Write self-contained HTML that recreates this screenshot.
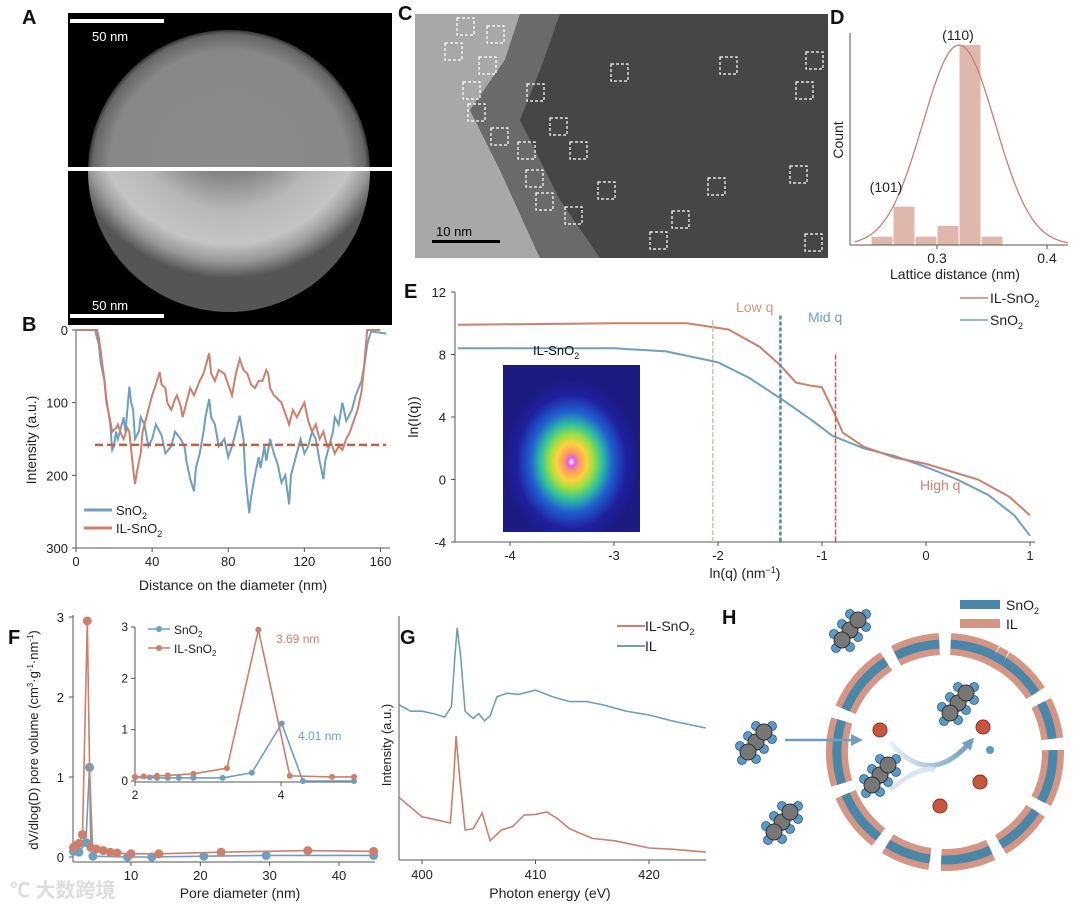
<!DOCTYPE html>
<html><head><meta charset="utf-8">
<style>
html,body{margin:0;padding:0;background:#fff;}
svg{display:block;font-family:"Liberation Sans","Noto Sans CJK SC",sans-serif;}
.pl{font-size:20px;font-weight:bold;fill:#111;}
</style></head>
<body>
<svg id="fig" width="1080" height="912" viewBox="0 0 1080 912">
<defs>
<radialGradient id="gA" cx="50%" cy="50%" r="50%">
<stop offset="0" stop-color="#8a8a8a"/><stop offset="0.85" stop-color="#888"/><stop offset="0.97" stop-color="#666"/><stop offset="1" stop-color="#333"/>
</radialGradient>
<radialGradient id="gA2" cx="50%" cy="28%" r="60%">
<stop offset="0" stop-color="#3e3e3e"/><stop offset="0.3" stop-color="#707070"/><stop offset="0.6" stop-color="#b8b8b8"/><stop offset="0.8" stop-color="#c4c4c4"/><stop offset="0.9" stop-color="#999"/><stop offset="1" stop-color="#555"/>
</radialGradient>
<radialGradient id="gS" cx="50%" cy="58%" r="50%">
<stop offset="0" stop-color="#fff"/><stop offset="0.05" stop-color="#e060e0"/><stop offset="0.12" stop-color="#ff9a60"/><stop offset="0.22" stop-color="#ffd040"/><stop offset="0.32" stop-color="#a0e040"/><stop offset="0.45" stop-color="#30c0a0"/><stop offset="0.6" stop-color="#2060d0"/><stop offset="0.8" stop-color="#2020a0"/><stop offset="1" stop-color="#1a1a80"/>
</radialGradient>
<linearGradient id="gArr" x1="0" x2="1"><stop offset="0" stop-color="#e8f0f6"/><stop offset="1" stop-color="#6e9fc0"/></linearGradient>
<marker id="ah" markerUnits="userSpaceOnUse" markerWidth="12" markerHeight="12" refX="9" refY="6" orient="auto"><path d="M0,0 L12,6 L0,12 z" fill="#6e9fc0"/></marker>
</defs>

<!-- Panel A -->
<g>
<rect x="68" y="13" width="324" height="312" fill="#000"/>
<clipPath id="ct"><rect x="68" y="13" width="324" height="155"/></clipPath>
<clipPath id="cb"><rect x="68" y="171" width="324" height="154"/></clipPath>
<circle cx="229" cy="171" r="141" fill="url(#gA)" clip-path="url(#ct)"/>
<circle cx="229" cy="171" r="141" fill="url(#gA2)" clip-path="url(#cb)"/>
<rect x="68" y="167" width="324" height="4" fill="#fff"/>
<rect x="70" y="19" width="94" height="4" fill="#fff"/>
<text x="92" y="41" font-size="13" fill="#fff">50 nm</text>
<text x="92" y="310" font-size="13" fill="#fff">50 nm</text>
<rect x="70" y="314" width="94" height="4" fill="#fff"/>
</g>
<text class="pl" x="22" y="24">A</text>

<!-- Panel C -->
<g>
<rect x="415" y="14" width="413" height="244" fill="#464646"/>
<polygon points="415,14 520,14 505,60 470,110 500,170 540,258 415,258" fill="#a8a8a8"/>
<polygon points="520,14 560,14 540,70 520,120 560,200 600,258 540,258 500,170 470,110 505,60" fill="#6a6a6a"/>
<g id="boxes" fill="none" stroke="#fff" stroke-width="1.2" stroke-dasharray="3,2"></g>
<rect x="432" y="240" width="68" height="3" fill="#000"/>
<text x="436" y="236" font-size="13" fill="#000">10 nm</text>
</g>
<text class="pl" x="398" y="20">C</text>

<text class="pl" x="22" y="331">B</text>
<text class="pl" x="830" y="24">D</text>
<text class="pl" x="404" y="298">E</text>
<text class="pl" x="8" y="644">F</text>
<text class="pl" x="400" y="644">G</text>
<text class="pl" x="722" y="624">H</text>

<g id="pB"></g>
<g id="pD"></g>
<g id="pE"></g>
<g id="pF"></g>
<g id="pG"></g>
<g id="pH"></g>

<text x="10" y="897" font-size="20" fill="#ddd" font-weight="bold">℃ 大数跨境</text>
</svg>
<script>
var NS='http://www.w3.org/2000/svg';
var BLUE='#6e9fc0', RED='#cd7f6c';
// ---- data ----
var bSnO2=[[0,0],[10,0],[11,10],[12,20],[13,45],[15,70],[16,95],[18,130],[19,165],[20,160],[21,140],[22,150],[24,130],[25,120],[26,140],[28,78],[29,100],[30,110],[31,150],[33,140],[34,120],[36,130],[38,160],[40,150],[42,130],[45,145],[47,170],[50,160],[52,140],[55,150],[57,160],[58,180],[60,205],[62,222],[63,190],[65,170],[67,140],[68,120],[70,95],[71,120],[73,130],[75,160],[78,150],[80,175],[82,160],[84,140],[86,118],[88,150],[89,200],[91,252],[92,230],[94,200],[96,175],[97,190],[99,160],[100,180],[102,150],[104,170],[106,185],[108,210],[110,200],[112,240],[113,200],[115,180],[117,160],[118,150],[120,170],[122,160],[124,140],[126,150],[128,180],[130,205],[131,180],[133,160],[135,140],[136,120],[138,130],[140,100],[142,125],[145,110],[147,90],[150,70],[152,40],[153,20],[155,2],[163,5]];
var bIL=[[0,0],[11,0],[12,10],[13,30],[15,70],[16,100],[18,125],[19,140],[21,135],[22,130],[24,145],[25,150],[27,135],[28,140],[30,190],[31,212],[32,195],[34,170],[35,140],[37,120],[38,110],[40,90],[42,75],[44,58],[45,75],[47,80],[48,100],[50,110],[52,95],[53,90],[55,105],[56,120],[58,100],[60,80],[62,90],[65,70],[67,60],[70,32],[71,60],[73,70],[75,55],[78,60],[80,75],[82,90],[84,60],[86,40],[88,55],[90,60],[92,75],[94,80],[96,70],[98,70],[100,55],[101,60],[102,80],[104,90],[106,95],[108,100],[110,115],[112,130],[114,110],[116,120],[118,110],[120,100],[122,125],[124,140],[126,130],[128,150],[130,140],[132,160],[134,155],[136,170],[138,160],[140,165],[142,150],[144,140],[146,125],[148,110],[150,85],[151,60],[152,30],[153,0],[160,0]];
var bThreshold=158;
var bXTicks=[0,40,80,120,160], bYTicks=[0,100,200,300];
var dBinEdges=[0.24,0.26,0.28,0.30,0.32,0.34];
var dCounts=[1,4.6,1,2.3,24,1];
var dFitMean=0.32, dFitSigma=0.033, dFitAmp=24;
var dXTicks=[0.3,0.4];
var eSnO2=[[-4.5,8.4],[-3,8.4],[-2.5,8.2],[-2,7.5],[-1.7,6.5],[-1.4,5.2],[-1.1,3.8],[-0.9,2.8],[-0.6,2.0],[-0.3,1.5],[0,0.8],[0.3,0],[0.6,-1],[0.85,-2.3],[1,-3.6]];
var eIL=[[-4.5,9.9],[-3,10],[-2.3,10],[-1.9,9.6],[-1.6,8.5],[-1.4,7.3],[-1.25,6.2],[-1.1,6.0],[-1.0,5.9],[-0.9,4.5],[-0.8,3],[-0.6,2.1],[-0.3,1.4],[0,1],[0.5,0],[0.8,-1.1],[1,-2.3]];
var eXTicks=[-4,-3,-2,-1,0,1], eYTicks=[-4,0,4,8,12];
var fIL=[[1.7,0.12],[2,0.14],[2.5,0.17],[3.0,0.28],[3.69,2.95],[4.2,0.12],[5,0.1],[6,0.08],[7,0.06],[8,0.05],[10,0.04],[14,0.04],[23,0.06],[35.5,0.08],[45,0.07]];
var fSnO2=[[1.7,0.07],[2.5,0.06],[3.5,0.18],[4.01,1.12],[4.5,0.01],[9.5,0],[13,0],[20.5,0.01],[29.5,0.02],[45,0.02]];
var fXTicks=[10,20,30,40], fYTicks=[0,1,2,3];
var iIL=[[2,0.08],[2.12,0.09],[2.3,0.1],[2.45,0.11],[2.8,0.14],[3.26,0.25],[3.69,2.95],[4.12,0.1],[4.7,0.08],[5,0.08]];
var iSnO2=[[2,0.07],[2.2,0.07],[2.3,0.06],[2.45,0.06],[2.6,0.06],[2.8,0.06],[3.2,0.06],[3.6,0.16],[4.01,1.12],[4.3,0],[5,0]];
var gIL=[[398,64.6],[399,62],[400,62],[401,61],[402,59.6],[402.6,64],[402.9,85],[403.1,96.7],[403.4,85],[403.8,62],[404.5,59],[405,61],[405.5,58],[406,60],[406.6,68],[407.5,69.5],[408.5,69],[410,70.8],[411.5,68],[413,66],[414.5,66],[416,64.6],[418,62],[420,60.4],[422,58],[424,56],[425,55]];
var gILSnO2=[[398,26],[399,22],[400,18],[401,17],[402.5,15.4],[402.8,35],[403,51.7],[403.3,35],[403.8,12.5],[404.5,13],[405.3,19.6],[406,8],[407,12.5],[408,14],[409,18.7],[410,19],[411,20],[412,17],[413,13],[415,9],[417,8],[420,5],[422,4.5],[425,3.3]];
var gXTicks=[400,410,420];

function el(tag,attrs,parent){var e=document.createElementNS(NS,tag);for(var k in attrs)e.setAttribute(k,attrs[k]);parent.appendChild(e);return e;}
function txt(s,x,y,parent,anchor,size,fill){var t=el('text',{x:x,y:y,'font-size':size||13,fill:fill||'#222','text-anchor':anchor||'start'},parent);t.innerHTML=s;return t;}
function lin(d0,d1,r0,r1){return function(v){return r0+(v-d0)/(d1-d0)*(r1-r0);};}
function path(pts,sx,sy){return pts.map(function(p,i){return (i?'L':'M')+sx(p[0]).toFixed(1)+','+sy(p[1]).toFixed(1);}).join(' ');}
function axes(g,x0,y0,x1,y1){el('line',{x1:x0,y1:y0,x2:x0,y2:y1,stroke:'#555','stroke-width':1},g);el('line',{x1:x0,y1:y1,x2:x1,y2:y1,stroke:'#555','stroke-width':1},g);}

var boxPos=[[457,18],[445,43],[487,26],[479,57],[463,82],[468,104],[527,84],[611,64],[720,57],[796,82],[806,52],[491,128],[518,142],[550,118],[570,142],[526,170],[536,193],[565,207],[598,182],[708,178],[790,166],[650,232],[672,211],[805,234]];
var bx=document.getElementById('boxes');
boxPos.forEach(function(p){var r=el('rect',{x:p[0],y:p[1],width:17,height:17},bx);});

// ---- B ----
(function(){var g=document.getElementById('pB');var sx=lin(0,165,76,390),sy=lin(0,300,330,548);
axes(g,76,330,390,548);
bXTicks.forEach(function(v){el('line',{x1:sx(v),y1:548,x2:sx(v),y2:552,stroke:'#555'},g);txt(v,sx(v),566,g,'middle');});
bYTicks.forEach(function(v){el('line',{x1:72,y1:sy(v),x2:76,y2:sy(v),stroke:'#555'},g);txt(v,68,sy(v)+5,g,'end');});
var p=el('path',{d:path(bSnO2,sx,sy),fill:'none',stroke:BLUE,'stroke-width':2},g);
p=el('path',{d:path(bIL,sx,sy),fill:'none',stroke:RED,'stroke-width':2},g);
p=el('line',{x1:sx(10),x2:sx(163),y1:sy(bThreshold),y2:sy(bThreshold),stroke:'#c0604a','stroke-width':2.5,'stroke-dasharray':'8,4'},g);
el('line',{x1:84,x2:112,y1:510,y2:510,stroke:BLUE,'stroke-width':3},g);txt('SnO<tspan font-size="9" dy="4">2</tspan>',116,515,g);
el('line',{x1:84,x2:112,y1:528,y2:528,stroke:RED,'stroke-width':3},g);txt('IL-SnO<tspan font-size="9" dy="4">2</tspan>',116,533,g);
txt('Distance on the diameter (nm)',233,590,g,'middle',14);
var t=txt('Intensity (a.u.)',0,0,g,'middle',14);t.setAttribute('transform','translate(36,440) rotate(-90)');
})();

// ---- D ----
(function(){var g=document.getElementById('pD');var sx=lin(0.3,0.4,937,1047),sy=lin(0,24,245,45);
dCounts.forEach(function(c,i){var r=el('rect',{x:sx(dBinEdges[i])+0.5,y:sy(c),width:sx(dBinEdges[i]+0.02)-sx(dBinEdges[i])-1,height:245-sy(c),fill:'#e0b7ad'},g);});
var pts=[];for(var v=0.225;v<=0.42;v+=0.002)pts.push([v,dFitAmp*Math.exp(-Math.pow(v-dFitMean,2)/(2*dFitSigma*dFitSigma))]);
var p=el('path',{d:path(pts,sx,sy),fill:'none',stroke:RED,'stroke-width':1.3},g);
axes(g,850,33,1068,245);
dXTicks.forEach(function(v){el('line',{x1:sx(v),y1:245,x2:sx(v),y2:249,stroke:'#555'},g);txt(v,sx(v),263,g,'middle',14);});
txt('Lattice distance (nm)',955,279,g,'middle',14);
var t=txt('Count',0,0,g,'middle',14);t.setAttribute('transform','translate(843,140) rotate(-90)');
txt('(110)',958,40,g,'middle',14);txt('(101)',886,192,g,'middle',14);
el('line',{x1:960,x2:988,y1:298,y2:298,stroke:RED,'stroke-width':1.5},g);txt('IL-SnO<tspan font-size="9" dy="4">2</tspan>',990,303,g,'start',14);
el('line',{x1:960,x2:988,y1:320,y2:320,stroke:BLUE,'stroke-width':1.5},g);txt('SnO<tspan font-size="9" dy="4">2</tspan>',990,325,g,'start',14);
})();

// ---- E ----
(function(){var g=document.getElementById('pE');var sx=lin(-4,1,510,1030),sy=lin(-4,12,542,292);
axes(g,455,292,1035,542);
eXTicks.forEach(function(v){el('line',{x1:sx(v),y1:542,x2:sx(v),y2:546,stroke:'#555'},g);txt(v,sx(v),560,g,'middle');});
eYTicks.forEach(function(v){el('line',{x1:451,y1:sy(v),x2:455,y2:sy(v),stroke:'#555'},g);txt(v,446,sy(v)+5,g,'end');});
var p=el('path',{d:path(eSnO2,sx,sy),fill:'none',stroke:BLUE,'stroke-width':2},g);
p=el('path',{d:path(eIL,sx,sy),fill:'none',stroke:RED,'stroke-width':2},g);
el('line',{x1:sx(-2.05),x2:sx(-2.05),y1:sy(10.2),y2:542,stroke:'#e8b8a8','stroke-width':1.5,'stroke-dasharray':'5,2'},g);
el('line',{x1:sx(-1.4),x2:sx(-1.4),y1:sy(10.5),y2:542,stroke:'#5a88a8','stroke-width':2.5,'stroke-dasharray':'4,2'},g);
el('line',{x1:sx(-0.87),x2:sx(-0.87),y1:sy(8),y2:542,stroke:'#c0604a','stroke-width':1.5,'stroke-dasharray':'5,2'},g);
txt('Low q',736,312,g,'start',14,'#d7917f');txt('Mid q',808,322,g,'start',14,'#6e9fc0');txt('High q',920,490,g,'start',14,'#cd7f6c');
var r=el('rect',{x:503,y:365,width:137,height:167,fill:'url(#gS)'},g);
txt('IL-SnO<tspan font-size="9" dy="4">2</tspan>',533,355,g,'start',13,'#111');
txt('ln(q) (nm<tspan font-size="9" dy="-5">−1</tspan><tspan dy="5">)</tspan>',745,578,g,'middle',14);
var t=txt('ln(I(q))',0,0,g,'middle',14);t.setAttribute('transform','translate(418,417) rotate(-90)');
})();

// ---- F ----
(function(){var g=document.getElementById('pF');var sx=lin(10,40,131,339),sy=lin(0,3,857,617);
axes(g,73,615,375,862);
fXTicks.forEach(function(v){el('line',{x1:sx(v),y1:862,x2:sx(v),y2:866,stroke:'#555'},g);txt(v,sx(v),880,g,'middle');});
fYTicks.forEach(function(v){el('line',{x1:69,y1:sy(v),x2:73,y2:sy(v),stroke:'#555'},g);txt(v,64,sy(v)+5,g,'end');});
function series(d,c,nm,sxx,syy,r){var p=el('path',{d:path(d,sxx,syy),fill:'none',stroke:c,'stroke-width':1.6},g);
d.forEach(function(q){var ci=el('circle',{cx:sxx(q[0]),cy:syy(q[1]),r:r,fill:c},g);});}
series(fSnO2,BLUE,'f-sno2',sx,sy,4.5);series(fIL,RED,'f-il-sno2',sx,sy,4.5);
txt('Pore diameter (nm)',240,898,g,'middle',14);
var t=txt('dV/dlog(D) pore volume (cm<tspan font-size="8" dy="-5">3</tspan><tspan dy="5">·g</tspan><tspan font-size="8" dy="-5">-1</tspan><tspan dy="5">·nm</tspan><tspan font-size="8" dy="-5">-1</tspan><tspan dy="5">)</tspan>',0,0,g,'middle',13);t.setAttribute('transform','translate(38,740) rotate(-90)');
var ix=lin(2,4,135,281),iy=lin(0,3,781,627);
el('rect',{x:135,y:627,width:220,height:155,fill:'#fff'},g);
axes(g,135,627,355,782);
[2,4].forEach(function(v){el('line',{x1:ix(v),y1:782,x2:ix(v),y2:786,stroke:'#555'},g);txt(v,ix(v),799,g,'middle',12);});
[0,1,2,3].forEach(function(v){el('line',{x1:131,y1:iy(v),x2:135,y2:iy(v),stroke:'#555'},g);txt(v,128,iy(v)+4,g,'end',12);});
series(iSnO2,BLUE,'inset-sno2',ix,iy,3);series(iIL,RED,'inset-il-sno2',ix,iy,3);
txt('3.69 nm',276,643,g,'start',12,RED);txt('4.01 nm',298,740,g,'start',12,BLUE);
el('line',{x1:148,x2:170,y1:629,y2:629,stroke:BLUE,'stroke-width':1.5},g);el('circle',{cx:159,cy:629,r:3,fill:BLUE},g);txt('SnO<tspan font-size="8" dy="3">2</tspan>',174,634,g,'start',12);
el('line',{x1:148,x2:170,y1:648,y2:648,stroke:RED,'stroke-width':1.5},g);el('circle',{cx:159,cy:648,r:3,fill:RED},g);txt('IL-SnO<tspan font-size="8" dy="3">2</tspan>',174,653,g,'start',12);
})();

// ---- G ----
(function(){var g=document.getElementById('pG');var sx=lin(400,420,422,649),sy=lin(0,100,860,620);
axes(g,399,616,706,860);
gXTicks.forEach(function(v){el('line',{x1:sx(v),y1:860,x2:sx(v),y2:864,stroke:'#555'},g);txt(v,sx(v),879,g,'middle');});
var p=el('path',{d:path(gIL,sx,sy),fill:'none',stroke:BLUE,'stroke-width':1.6},g);
p=el('path',{d:path(gILSnO2,sx,sy),fill:'none',stroke:RED,'stroke-width':1.6},g);
el('line',{x1:617,x2:645,y1:626,y2:626,stroke:RED,'stroke-width':2},g);txt('IL-SnO<tspan font-size="9" dy="4">2</tspan>',645,631,g,'start',14);
el('line',{x1:617,x2:645,y1:646,y2:646,stroke:BLUE,'stroke-width':2},g);txt('IL',645,651,g,'start',14);
txt('Photon energy (eV)',550,898,g,'middle',14);
var t=txt('Intensity (a.u.)',0,0,g,'middle',13);t.setAttribute('transform','translate(391,745) rotate(-90)');
})();

// ---- H ----
(function(){var g=document.getElementById('pH');var cx=945,cy=752;
var gapsDeg=[-60,-30,-4,30,62,95,125,160,200,240,270,300];
function arc(r,a0,a1){var s=a0*Math.PI/180,e=a1*Math.PI/180;return 'M'+(cx+r*Math.cos(s))+','+(cy+r*Math.sin(s))+' A'+r+','+r+' 0 0 1 '+(cx+r*Math.cos(e))+','+(cy+r*Math.sin(e));}
var seg=gapsDeg.concat([gapsDeg[0]+360]);
for(var i=0;i<gapsDeg.length;i++){var a0=seg[i]+3,a1=seg[i+1]-3;
el('path',{d:arc(108,a0,a1),fill:'none',stroke:'#d49584','stroke-width':22},g);
el('path',{d:arc(108,a0,a1),fill:'none',stroke:'#4a86a8','stroke-width':9},g);}
el('rect',{x:960,y:600,width:40,height:9,fill:'#4a86a8'},g);txt('SnO<tspan font-size="9" dy="4">2</tspan>',1006,610,g,'start',14);
el('rect',{x:960,y:619,width:40,height:9,fill:'#d49584'},g);txt('IL',1006,629,g,'start',14);
function mol(x,y){var m=el('g',{},g);
[[0,0],[8,-10],[-8,10]].forEach(function(o){[[-8,-6],[8,-6],[-6,8],[8,7]].forEach(function(h){el('circle',{cx:x+o[0]+h[0],cy:y+o[1]+h[1],r:4.5,fill:'#5a9ac8',stroke:'#2a5a80','stroke-width':0.8},m);});});
[[0,0],[8,-10],[-8,10]].forEach(function(o){el('circle',{cx:x+o[0],cy:y+o[1],r:8,fill:'#777',stroke:'#333','stroke-width':1},m);});}
mol(850,630);mol(756,742);mol(782,822);mol(958,703);mol(880,775);
[[880,730],[983,727],[980,782],[940,806]].forEach(function(p){var c=el('circle',{cx:p[0],cy:p[1],r:7,fill:'#c8553d',stroke:'#8a3020','stroke-width':1},g);});
el('circle',{cx:990,cy:750,r:4,fill:'#5a9ac8'},g);
el('line',{x1:785,y1:740,x2:860,y2:740,stroke:BLUE,'stroke-width':2.5,'marker-end':'url(#ah)'},g);
el('path',{d:'M890,742 Q930,790 972,740',fill:'none',stroke:'url(#gArr)','stroke-width':5,'marker-end':'url(#ah)'},g);
el('path',{d:'M890,790 Q920,765 935,770',fill:'none',stroke:'#d8e6ef','stroke-width':5},g);
})();
</script>
</body></html>
